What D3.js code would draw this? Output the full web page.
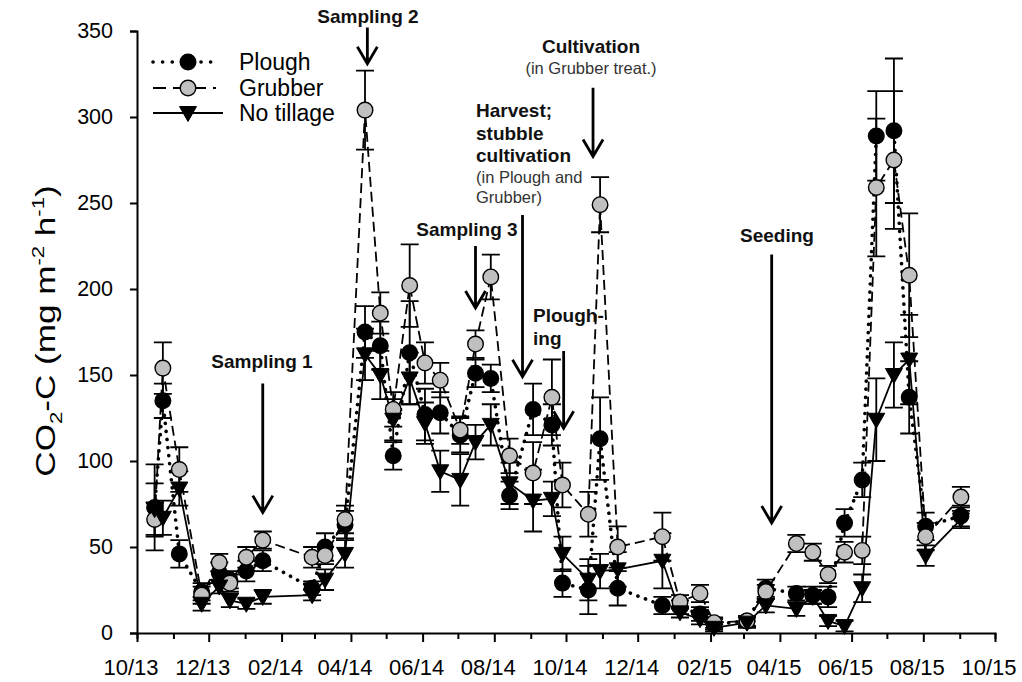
<!DOCTYPE html>
<html>
<head>
<meta charset="utf-8">
<script src="https://cdn.jsdelivr.net/npm/d3@7"></script>
<style>
  body { margin: 0; background: #fff; }
  svg { display: block; }
  text { font-family: "Liberation Sans", Arial, sans-serif; }
</style>
</head>
<body>
<svg id="chart" width="1022" height="682"></svg>
<script>
// Soil CO2-C efflux under three tillage systems, Oct 2013 – Oct 2015
const sampleDates = [
  "2013-10-16","2013-10-23","2013-11-06","2013-11-25","2013-12-10","2013-12-19",
  "2014-01-02","2014-01-16","2014-02-27","2014-03-10","2014-03-27","2014-04-13",
  "2014-04-26","2014-05-07","2014-05-21","2014-06-03","2014-06-16","2014-07-03",
  "2014-07-16","2014-07-29","2014-08-14","2014-09-03","2014-09-19","2014-09-28",
  "2014-10-20","2014-10-30","2014-11-14","2014-12-22","2015-01-06","2015-01-23",
  "2015-02-04","2015-03-04","2015-03-20","2015-04-15","2015-04-29","2015-05-12",
  "2015-05-26","2015-06-10","2015-06-22","2015-07-07","2015-07-20","2015-08-03",
  "2015-09-02"
];
const plough = [
  73,135,46,24,35,31, 36,42,26,50,63,175, 167,103,163,127,128,115,
  151,148,80,130,121,29, 25,113,26,16,15,11, 5,7,26,23,22,21,
  64,89,289,292,137,62, 68
];
const ploughSE = [
  25,10,8,5,6,5, 6,6,4,8,8,15, 14,8,30,15,12,10,
  8,8,8,15,12,8, 14,24,10,5,4,4, 3,3,5,4,5,6,
  8,10,26,42,21,8, 6
];
const grubber = [
  66,154,95,22,41,29, 44,54,44,45,66,304, 186,130,202,157,147,118,
  168,207,103,93,137,86, 69,249,50,56,18,23, 6,7,24,52,47,34,
  47,48,259,275,208,56, 79
];
const grubberSE = [
  10,15,13,5,5,5, 6,5,6,5,8,23, 12,10,24,12,10,8,
  8,13,10,18,22,13, 13,16,12,14,4,5, 3,3,4,5,5,5,
  6,8,40,40,36,8, 6
];
const noTillage = [
  72,67,84,17,27,19, 17,21,22,31,46,162, 150,124,148,122,94,89,
  111,121,87,77,78,46, 31,36,37,42,12,8, 3,6,16,14,21,7,
  4,26,124,150,159,45, 66
];
const noTillageSE = [
  15,10,10,4,4,4, 3,4,3,6,8,15, 14,12,15,12,12,15,
  10,12,12,18,10,10, 12,10,10,16,3,3, 2,3,4,4,4,3,
  3,8,24,19,26,6, 5
];
const seriesNames = ["Plough", "Grubber", "No tillage"];
const yTicks = [0, 50, 100, 150, 200, 250, 300, 350];
const xDomain = ["2013-10-01", "2015-10-01"];

// Field events: arrow anchored on a date, running between two CO2-C levels
const events = [
  { lines: [["Sampling 1", "b"]], date: "2014-01-16", from: 145, to: 70, tx: 262, ty: 368, anchor: "middle" },
  { lines: [["Sampling 2", "b"]], date: "2014-04-15", from: 352, to: 331, tx: 368, ty: 23, anchor: "middle" },
  { lines: [["Sampling 3", "b"]], date: "2014-07-16", from: 225, to: 189, tx: 467, ty: 236, anchor: "middle" },
  { lines: [["Harvest;", "b"], ["stubble", "b"], ["cultivation", "b"], ["(in Plough and", "n"], ["Grubber)", "n"]],
    date: "2014-08-25", from: 243, to: 149, tx: 476, ty: 117, anchor: "start" },
  { lines: [["Plough-", "b"], ["ing", "b"]], date: "2014-09-29", from: 164, to: 119, tx: 533, ty: 322, anchor: "start" },
  { lines: [["Cultivation", "b"], ["(in Grubber treat.)", "n"]], date: "2014-10-24", from: 317, to: 277, tx: 591, ty: 53, anchor: "middle" },
  { lines: [["Seeding", "b"]], date: "2015-03-25", from: 220, to: 64, tx: 777, ty: 242, anchor: "middle" }
];

const parse = d3.timeParse("%Y-%m-%d");
const svg = d3.select("#chart");

const x = d3.scaleTime().domain(xDomain.map(parse)).range([137, 995]);
const y = d3.scaleLinear().domain([0, 350]).range([633, 31]);

const build = (vals, se) => sampleDates.map((d, i) => ({ date: parse(d), v: vals[i], se: se[i] }));
const series = [
  { name: seriesNames[0], pts: build(plough, ploughSE), dash: "0.1,8", width: 3.6, cap: "round", marker: "circle", fill: "#000" },
  { name: seriesNames[1], pts: build(grubber, grubberSE), dash: "10,5", width: 1.8, cap: "butt", marker: "circle", fill: "#c0c0c0" },
  { name: seriesNames[2], pts: build(noTillage, noTillageSE), dash: null, width: 1.8, cap: "butt", marker: "tri", fill: "#000" }
];

const triPath = "M-8.5,-6.5L8.5,-6.5L0,8.5Z";

// Axes
const months = d3.timeMonth.range(parse(xDomain[0]), d3.timeDay.offset(parse(xDomain[1]), 1));
const fmt = d3.timeFormat("%m/%y");
const labelled = d => d.getMonth() % 2 === 1;

const xAxis = svg.append("g").attr("transform", "translate(0,633)")
  .call(d3.axisBottom(x).tickValues(months).tickSizeOuter(0).tickSize(6)
    .tickFormat(d => labelled(d) ? fmt(d) : ""));
xAxis.select(".domain").attr("stroke", "#000").attr("stroke-width", 2);
xAxis.selectAll(".tick line").attr("stroke", "#000").attr("stroke-width", 2)
  .attr("y2", d => labelled(d) ? 9 : 6);
xAxis.selectAll(".tick text").attr("fill", "#000").attr("font-size", 22)
  .attr("font-family", "'Liberation Sans', Arial, sans-serif")
  .attr("x", -6.5).attr("y", 26).attr("dy", "0.71em");

const yAxis = svg.append("g").attr("transform", "translate(137,0)")
  .call(d3.axisLeft(y).tickValues(yTicks).tickSizeOuter(0).tickSize(7).tickPadding(17));
yAxis.select(".domain").attr("stroke", "#000").attr("stroke-width", 2);
yAxis.selectAll(".tick line").attr("stroke", "#000").attr("stroke-width", 2);
yAxis.selectAll(".tick text").attr("fill", "#000").attr("font-size", 21.5)
  .attr("font-family", "'Liberation Sans', Arial, sans-serif");

// Y axis title with sub/superscripts, drawn slightly elongated along its reading direction
const yt = svg.append("text").attr("transform", "translate(55,331) rotate(-90) scale(1.3,1)")
  .attr("text-anchor", "middle").attr("font-size", 27).attr("fill", "#000");
yt.append("tspan").text("CO");
yt.append("tspan").attr("dy", 7).attr("font-size", 17).text("2");
yt.append("tspan").attr("dy", -7).text("-C (mg m");
yt.append("tspan").attr("dy", -11).attr("font-size", 17).text("-2");
yt.append("tspan").attr("dy", 11).text(" h");
yt.append("tspan").attr("dy", -11).attr("font-size", 17).text("-1");
yt.append("tspan").attr("dy", 11).text(")");

// Error bars
const plot = svg.append("g");
series.forEach(s => {
  plot.append("g").selectAll("path").data(s.pts).join("path")
    .attr("fill", "none").attr("stroke", "#000").attr("stroke-width", 1.8)
    .attr("d", d => {
      const cx = x(d.date), t = y(d.v + d.se), b = y(Math.max(0, d.v - d.se));
      return `M${cx - 9},${t}H${cx + 9}M${cx},${t}V${b}M${cx - 9},${b}H${cx + 9}`;
    });
});

// Lines
const line = d3.line().x(d => x(d.date)).y(d => y(d.v));
series.forEach(s => {
  plot.append("path").datum(s.pts)
    .attr("fill", "none").attr("stroke", "#000").attr("stroke-width", s.width)
    .attr("stroke-linecap", s.cap).attr("stroke-dasharray", s.dash)
    .attr("d", line);
});

// Markers
function drawMarker(sel, s) {
  if (s.marker === "circle") {
    sel.append("circle").attr("r", 7.8).attr("fill", s.fill).attr("stroke", "#000").attr("stroke-width", 1.4);
  } else {
    sel.append("path").attr("d", triPath).attr("fill", s.fill).attr("stroke", "#000").attr("stroke-width", 1);
  }
}
series.forEach(s => {
  plot.append("g").selectAll("g").data(s.pts).join("g")
    .attr("transform", d => `translate(${x(d.date)},${y(d.v)})`)
    .each(function () { drawMarker(d3.select(this), s); });
});

// Legend
const legendRows = [62, 88, 113];
series.forEach((s, i) => {
  const g = svg.append("g").attr("transform", `translate(0,${legendRows[i]})`);
  g.append("line").attr("x1", 153).attr("x2", s.marker === "tri" ? 223 : 216)
    .attr("stroke", "#000").attr("stroke-width", s.width).attr("stroke-linecap", s.cap)
    .attr("stroke-dasharray", s.marker === "tri" ? null : (s.dash === "0.1,8" ? "0.1,9.5" : "13,7"));
  const m = g.append("g").attr("transform", "translate(188,0)");
  drawMarker(m, s);
  g.append("text").attr("x", 239).attr("dy", "0.36em").attr("font-size", 23).attr("fill", "#000").text(s.name);
});

// Event annotations
const ann = svg.append("g");
events.forEach(e => {
  const ax = x(parse(e.date)), y0 = y(e.from), y1 = y(e.to);
  ann.append("path").attr("fill", "none").attr("stroke", "#000").attr("stroke-width", 2.8)
    .attr("stroke-linejoin", "miter")
    .attr("d", `M${ax},${y0}V${y1}M${ax - 10},${y1 - 17}L${ax},${y1}L${ax + 10},${y1 - 17}`);
  let yy = e.ty;
  e.lines.forEach(([txt, kind], i) => {
    if (i > 0) yy += kind === "b" ? 22.5 : 20.5;
    ann.append("text").attr("x", e.tx).attr("y", yy).attr("text-anchor", e.anchor)
      .attr("font-size", kind === "b" ? 19 : 16.5).attr("font-weight", kind === "b" ? "bold" : "normal")
      .attr("fill", kind === "b" ? "#111" : "#333").text(txt);
  });
});
</script>
</body>
</html>
